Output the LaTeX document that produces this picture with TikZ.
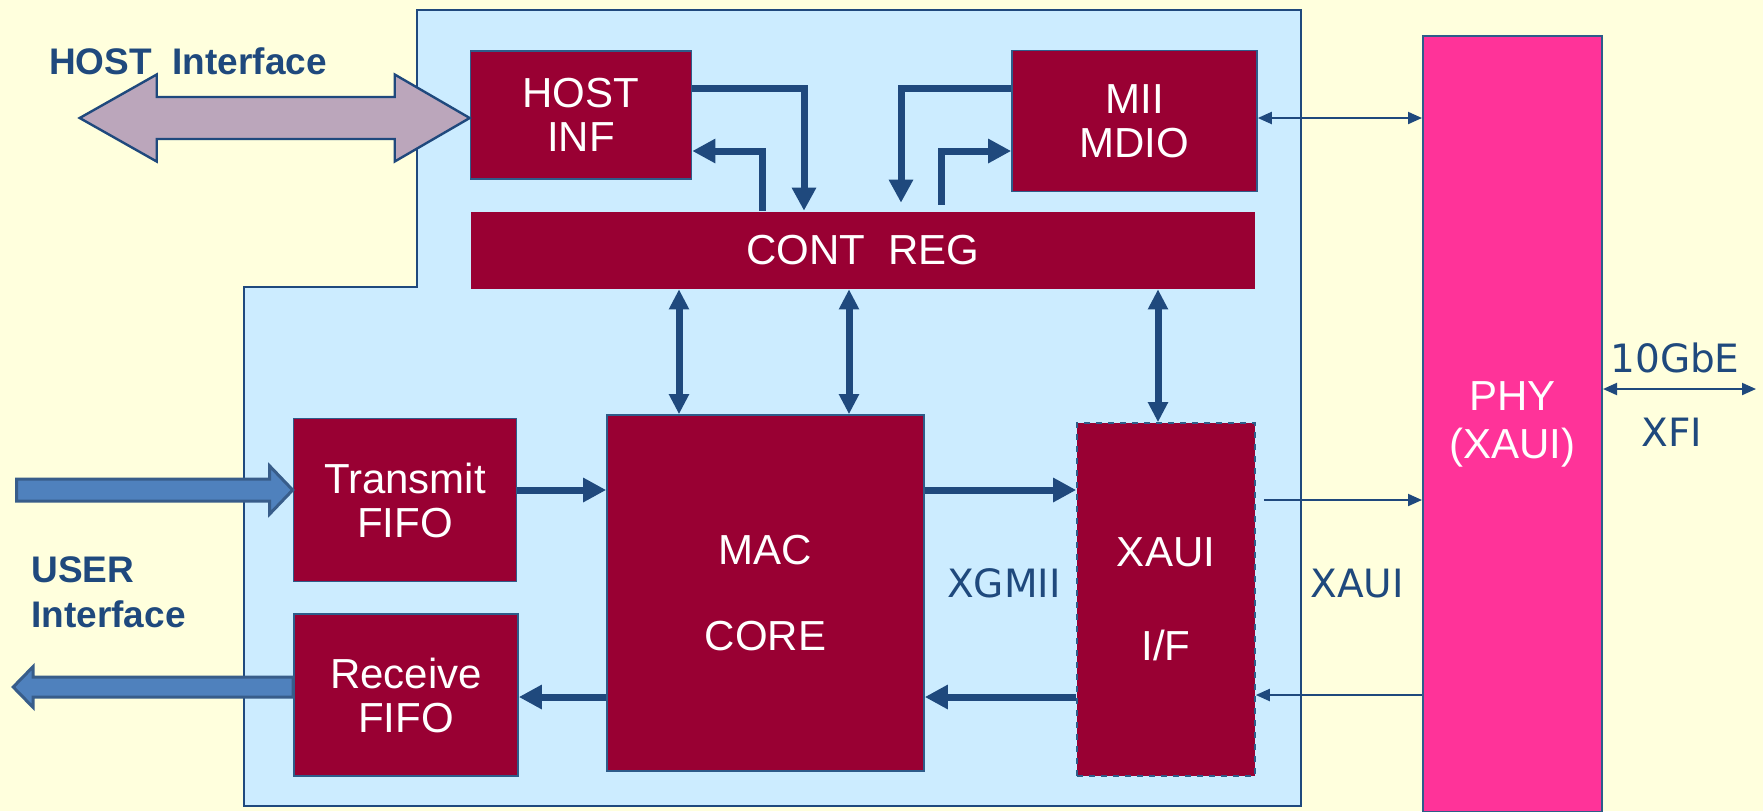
\documentclass[tikz,border=0pt]{standalone}
\usepackage{fontspec}
\setmainfont{Liberation Sans}
\newfontfamily\lblfont{DejaVu Sans}
\usetikzlibrary{arrows.meta, positioning}

\definecolor{bgyellow}{HTML}{FFFFDD}
\definecolor{coreblue}{HTML}{CCECFF}
\definecolor{macred}{HTML}{990033}
\definecolor{phypink}{HTML}{FF3399}
\definecolor{lineblue}{HTML}{1F497D}
\definecolor{edgeblue}{HTML}{2E5C8A}
\definecolor{hostmauve}{HTML}{BBA6BB}
\definecolor{userblue}{HTML}{4F81BD}
\definecolor{useredge}{HTML}{385D8A}

\begin{document}
\begin{tikzpicture}[
  x=0.5pt, y=-0.5pt,
  blk/.style={draw=edgeblue, line width=0.8pt, fill=macred, text=white, align=center,
              inner sep=0pt, font=\fontsize{21}{22}\selectfont},
  regblk/.style={blk, draw=none},
  ifblk/.style={blk, dashed},
  phyblk/.style={blk, fill=phypink, line width=1pt},
  region/.style={fill=coreblue, draw=lineblue, line width=1.3pt},
  lbl/.style={text=lineblue, font=\lblfont\fontsize{19.5}{23}\selectfont, inner sep=0pt},
  ifc/.style={text=lineblue, font=\fontsize{18.5}{22.5}\selectfont\bfseries, align=left,
              inner sep=0pt},
  hostarr/.style={fill=hostmauve, draw=lineblue, line width=1.2pt, line join=miter},
  userarr/.style={fill=userblue, draw=useredge, line width=1.5pt, line join=miter},
  thk/.style={line width=3.5pt, draw=lineblue, >={Triangle[length=11.5pt,width=11.5pt]}, ->},
  thkd/.style={thk, >={Triangle[length=10pt,width=9.5pt]}, <->},
  thn/.style={line width=1pt, draw=lineblue, >={Triangle[length=7pt,width=6pt]}, ->},
  thnd/.style={thn, <->}
]
\useasboundingbox (0,0) rectangle (1763,811);
\fill[bgyellow] (0,0) rectangle (1763,811);

% MAC core area
\filldraw[region] (417,10) -- (1301,10) -- (1301,806) -- (244,806) -- (244,287)
  -- (417,287) -- cycle;

% blocks
\node[blk, minimum width=110.5pt, minimum height=64pt] (hinf) at (581,115) {HOST\\INF};
\node[blk, minimum width=122.5pt, minimum height=70.5pt] (mii) at (1134.5,121) {MII\\MDIO};
\node[regblk, minimum width=392pt, minimum height=38.5pt] (creg) at (863,250) {CONT\ \ REG};
\node[blk, minimum width=111.5pt, minimum height=81.5pt] (txf) at (405,500) {Transmit\\FIFO};
\node[blk, minimum width=112pt, minimum height=81pt] (rxf) at (406,695) {Receive\\FIFO};
\node[blk, minimum width=158.5pt, minimum height=178pt] (mac) at (765.5,593) {MAC\\[21pt]CORE};
\node[ifblk, minimum width=89pt, minimum height=176.5pt] (xif) at (1166,599.5) {XAUI\\[25pt]I/F};
\node[phyblk, minimum width=89.5pt, minimum height=388pt] (phy) at (1512.5,424) {PHY\\[2pt](XAUI)};

% labels
\node[ifc] (hostlbl) at (188,61) {HOST\ \ Interface};
\node[ifc, anchor=west] (userlbl) at (31,592) {USER\\Interface};
\node[lbl] (xgmii) at (1004,583) {XGMII};
\node[lbl] (xauilbl) at (1357,584) {XAUI};
\node[lbl] (gbe) at (1675,358) {10GbE};
\node[lbl] (xfi) at (1672,432) {XFI};

% rows and columns of the links
\coordinate (rowup) at (0,88);
\coordinate (rowlo) at (0,151);
\coordinate (rowmd) at (0,118);
\coordinate (rowxfi) at (0,389);
\coordinate (rowtx) at (0,490);
\coordinate (rowpx) at (0,500);
\coordinate (rowux) at (0,687);
\coordinate (rowxp) at (0,695);
\coordinate (rowrx) at (0,697);
\coordinate (colA) at (679,0);
\coordinate (colB) at (849,0);
\coordinate (colC) at (1158,0);
\coordinate (colH1) at (804,0);
\coordinate (colH2) at (762,0);
\coordinate (colM1) at (901,0);
\coordinate (colM2) at (941,0);
\coordinate (xfiend) at (1756,389);

% host and user interface arrows
\filldraw[hostarr] (hinf.west |- rowmd) -- ++(-75,-43.5) -- ++(0,22.5) -- ++(-238,0)
  -- ++(0,-22.5) -- ++(-77,43.5) -- ++(77,43.5) -- ++(0,-22.5) -- ++(238,0)
  -- ++(0,22.5) -- cycle;
\filldraw[userarr] (txf.west |- rowtx) -- ++(-23,-24) -- ++(0,13) -- ++(-253,0)
  -- ++(0,22) -- ++(253,0) -- ++(0,13) -- cycle;
\filldraw[userarr] (rxf.west |- rowux) -- ++(0,-10) -- ++(-260,0) -- ++(0,-10.5)
  -- ++(-20,20.5) -- ++(20,20.5) -- ++(0,-10.5) -- ++(260,0) -- cycle;

% internal buses
\draw[thk] (hinf.east |- rowup) -| (creg.north -| colH1);
\draw[thk] (creg.north -| colH2) |- (hinf.east |- rowlo);
\draw[thk] (mii.west |- rowup) -| ([yshift=4pt]creg.north -| colM1);
\draw[thk] ([yshift=3pt]creg.north -| colM2) |- (mii.west |- rowlo);
\draw[thkd] (creg.south -| colA) -- (mac.north -| colA);
\draw[thkd] (creg.south -| colB) -- (mac.north -| colB);
\draw[thkd] (creg.south -| colC) -- (xif.north -| colC);
\draw[thk] (txf.east |- rowtx) -- (mac.west |- rowtx);
\draw[thk] (mac.east |- rowtx) -- (xif.west |- rowtx);
\draw[thk] (xif.west |- rowrx) -- (mac.east |- rowrx);
\draw[thk] (mac.west |- rowrx) -- (rxf.east |- rowrx);

% serial links
\draw[thnd] (mii.east |- rowmd) -- (phy.west |- rowmd);
\draw[thn] ([xshift=4pt]xif.east |- rowpx) -- (phy.west |- rowpx);
\draw[thn] (phy.west |- rowxp) -- (xif.east |- rowxp);
\draw[thnd] (phy.east |- rowxfi) -- (xfiend);

\end{tikzpicture}
\end{document}
